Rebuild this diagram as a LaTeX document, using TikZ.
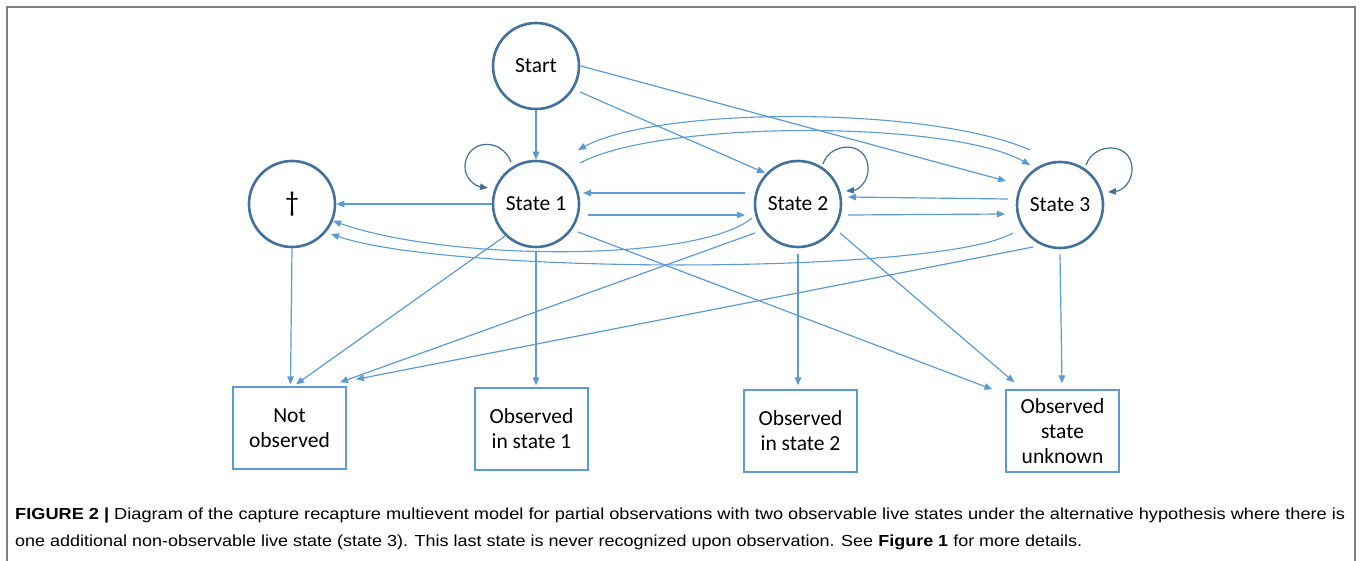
\documentclass[tikz,border=0pt]{standalone}
\usepackage{fontspec}
\usepackage{graphicx}
\usetikzlibrary{calc,arrows.meta}
\newfontfamily\calib{Carlito}
\newfontfamily\capfont{Liberation Sans}
\definecolor{arrowblue}{RGB}{91,155,213}
\definecolor{ringblue}{RGB}{65,113,156}
\definecolor{framegray}{RGB}{128,128,128}
\definecolor{captext}{RGB}{45,45,45}
\newsavebox\caplineA
\newsavebox\caplineB
\begin{document}
\sbox\caplineA{\capfont\fontsize{16}{19}\selectfont\textbf{FIGURE 2 |} Diagram of the capture recapture multievent model for partial observations with two observable live states under the alternative hypothesis where there is}%
\sbox\caplineB{\capfont\fontsize{16}{19}\selectfont one additional non-observable live state (state 3). This last state is never recognized upon observation. See \textbf{Figure 1} for more details.}%
\pgfmathsetmacro\capsc{1330/\the\wd\caplineA}%
\pgfmathsetmacro\capscb{1067/\the\wd\caplineB}%
\begin{tikzpicture}[x=1pt,y=-1pt,
  state/.style={circle,draw=ringblue,line width=2.6pt,minimum size=86pt,inner sep=0pt,font=\calib\fontsize{21.5}{25}\selectfont},
  obsbox/.style={rectangle,draw=arrowblue,line width=1.3pt,minimum width=113pt,minimum height=82pt,inner sep=0pt,align=center,font=\calib\fontsize{21.5}{25}\selectfont},
  conn/.style={draw=arrowblue,line width=1.2pt,-{Triangle[length=8pt,width=6.5pt]}},
  curveconn/.style={draw=arrowblue,line width=1.1pt,-{Triangle[length=8pt,width=6.5pt]}},
  loopconn/.style={draw=ringblue,line width=1.2pt,-{Triangle[length=8pt,width=6.5pt]}},
  capnode/.style={anchor=base west,inner sep=0pt,text=captext},
]
\useasboundingbox (0,0) rectangle (1360,561);
\fill[white] (0,0) rectangle (1360,561);
\draw[framegray,line width=2pt] (7,561) -- (7,7) -- (1355,7) -- (1355,561);

% nodes
\node[state] (start) at (536,66) {Start};
\node[state,font=\calib\fontsize{28}{30}\selectfont] (dag) at (292,204) {†};
\node[state] (s1) at (536,204) {State 1};
\node[state] (s2) at (798,204) {State 2};
\node[state] (s3) at (1060,205) {State 3};
\node[obsbox] (notobs) at (289.5,428) {Not\\observed};
\node[obsbox] (obs1) at (531.5,429) {Observed\\in state 1};
\node[obsbox] (obs2) at (800.5,431) {Observed\\in state 2};
\node[obsbox] (unk) at (1062.5,431) {Observed\\state\\unknown};

% straight connectors
\draw[conn] (start.south) -- (s1.north);
\draw[conn] ($(start)+(44,26)$) -- ($(s2)+(-33,-31)$);
\draw[conn] ($(start)+(45,0)$) -- ($(s3)+(-54,-24)$);
\draw[conn] (s1.west) -- (dag.east);
\draw[conn] ($(s2)+(-53,-11)$) -- ($(s1)+(47,-11)$);
\draw[conn] ($(s1)+(52,11)$) -- ($(s2)+(-53,11)$);
\draw[conn] ($(s3)+(-52,-6)$) -- ($(s2)+(50,-7)$);
\draw[conn] ($(s2)+(50,11)$) -- ($(s3)+(-55,9)$);
\draw[conn] (dag.south) -- ($(notobs.north)+(1,-2)$);
\draw[conn] ($(s1)+(-31,32)$) -- ($(notobs.north)+(6.5,-2)$);
\draw[conn] ($(s1.south)+(0,4)$) -- ($(obs1.north)+(4.5,-2)$);
\draw[conn] ($(s1)+(42,28)$) -- ($(unk.north west)+(-13,0)$);
\draw[conn] ($(s2)+(-43,29)$) -- ($(notobs.north)+(50.5,-4)$);
\draw[conn] ($(s2.south)+(0,6)$) -- ($(obs2.north)+(-2.5,-4)$);
\draw[conn] ($(s2)+(42,29)$) -- ($(unk.north west)+(9,-7)$);
\draw[conn] ($(s3)+(-27,42)$) -- ($(notobs.north)+(66.5,-7)$);
\draw[conn] ($(s3.south)+(0,5)$) -- ($(unk.north)+(-0.5,-6)$);

% curved connectors
\draw[curveconn] ($(s3)+(-30,-55)$) .. controls ($(s3)+(-130,-99)$) and ($(s1)+(124,-98)$) .. ($(s1)+(42,-54)$);
\draw[curveconn] ($(s1)+(44,-41)$) .. controls ($(s1)+(124,-84)$) and ($(s3)+(-110,-85)$) .. ($(s3)+(-30,-40)$);
\draw[curveconn] ($(s2)+(-46,14)$) .. controls ($(s2)+(-98,58)$) and ($(dag)+(158,58)$) .. ($(dag)+(41,17)$);
\draw[curveconn] ($(s3)+(-47,28)$) .. controls ($(s3)+(-120,70)$) and ($(dag)+(158,71)$) .. ($(dag)+(39,30)$);

% self loops
\draw[loopconn] ($(s1)+(-25,-42)$) .. controls ($(s1)+(-34,-66)$) and ($(s1)+(-68,-66)$) .. ($(s1)+(-71,-39)$) .. controls ($(s1)+(-72,-26)$) and ($(s1)+(-61,-18)$) .. ($(s1)+(-48,-16)$);
\draw[loopconn] ($(s2)+(25,-40)$) .. controls ($(s2)+(32,-62)$) and ($(s2)+(68,-64)$) .. ($(s2)+(70,-37)$) .. controls ($(s2)+(71,-22)$) and ($(s2)+(60,-14)$) .. ($(s2)+(48,-13)$);
\draw[loopconn] ($(s3)+(26,-40)$) .. controls ($(s3)+(34,-63)$) and ($(s3)+(70,-63)$) .. ($(s3)+(72,-38)$) .. controls ($(s3)+(73,-23)$) and ($(s3)+(62,-14)$) .. ($(s3)+(48,-13)$);

% caption
\node[capnode] (cap1) at (15,519) {\scalebox{\capsc}[1]{\usebox\caplineA}};
\node[capnode] (cap2) at (15,546) {\scalebox{\capscb}[1]{\usebox\caplineB}};
\end{tikzpicture}
\end{document}
